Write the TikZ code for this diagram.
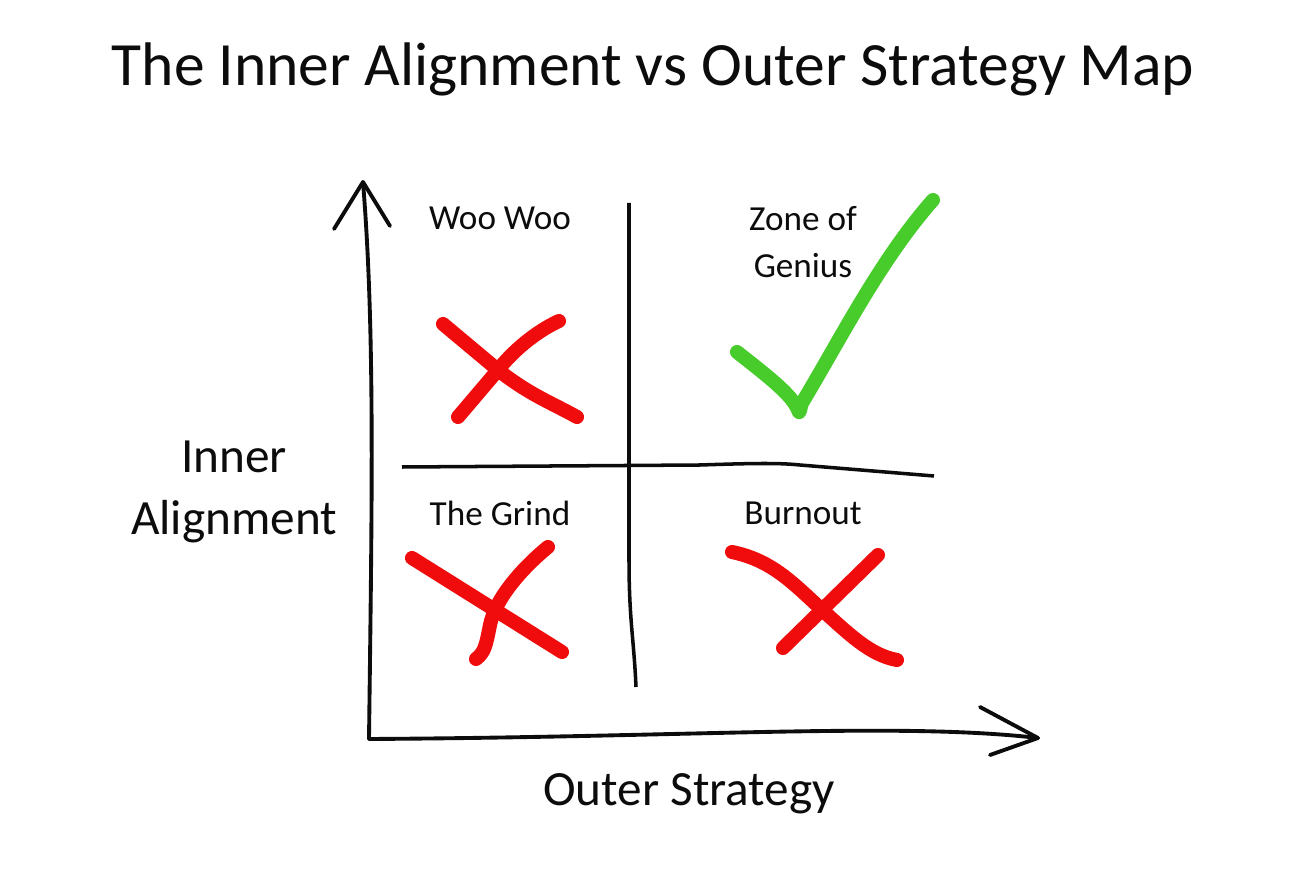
\documentclass[tikz,border=0pt]{standalone}
\usepackage{fontspec}
\setmainfont{Carlito}
\usetikzlibrary{positioning}
\definecolor{marker}{RGB}{240,12,12}
\definecolor{grass}{RGB}{72,204,44}
\definecolor{ink}{RGB}{12,12,12}
\tikzset{
  axis/.style={draw=ink,line width=1.1pt,line cap=round,line join=round},
  divider/.style={draw=ink,line width=1pt},
  cross/.style={draw=marker,line width=4pt,line cap=round,line join=round},
  checkmark/.style={draw=grass,line width=4pt,line cap=round,line join=round},
  quad/.style={font=\fontsize{10}{13.6}\selectfont,text=ink,align=center,inner sep=0pt},
  axislabel/.style={font=\fontsize{14}{17.6}\selectfont,text=ink,align=center,inner sep=0pt},
  headline/.style={font=\fontsize{17.5}{20}\selectfont,text=ink,inner sep=0pt},
}

\begin{document}
\begin{tikzpicture}[x=0.01cm,y=-0.01cm]
  \useasboundingbox[fill=white] (0,0) rectangle (1308,873);
  \node[headline,anchor=base] (title) at (653,86) {The Inner Alignment vs Outer Strategy Map};

  % axes
  \coordinate (O) at (369,739);
  \coordinate (ytip) at (363,182);
  \coordinate (xtip) at (1038,738);
  \draw[axis] (O) .. controls (372,500) and (375,330) .. (ytip);
  \draw[axis] (ytip) -- ++(-29,47) (ytip) -- ++(27,44);
  \draw[axis] (O) .. controls (700,737) and (900,722) .. (xtip);
  \draw[axis] (xtip) -- ++(-58,-31) (xtip) -- ++(-48,17);

  % quadrant lines
  \coordinate (vtop) at (629,203);
  \coordinate (vbot) at (636,687);
  \coordinate (hl) at (402,467);
  \coordinate (hr) at (934,476);
  \draw[divider] (vtop) -- (629,560) .. controls (629,620) and (634,640) .. (vbot);
  \draw[divider] (hl) -- (700,465) .. controls (760,463) and (780,463) .. (800,465) -- (hr);

  \node[quad] (woo) at (500,218) {Woo Woo};
  \node[quad] (genius) at (803,242) {Zone of\\Genius};
  \node[quad] (grind) at (500,513) {The Grind};
  \node[quad] (burn) at (803,513) {Burnout};

  \node[axislabel] (inner) at (234,492) {Inner\\Alignment};
  \node[axislabel,anchor=base] (outer) at (689,805) {Outer Strategy};

  % marks
  \draw[cross] (443,324) -- (498,370) .. controls (530,395) and (550,402) .. (577,417);
  \draw[cross] (559,321) .. controls (535,332) and (512,352) .. (498,370) -- (458,417);
  \draw[checkmark] (737,352) .. controls (770,378) and (792,395) .. (798,410)
    .. controls (800,416) and (800,408) .. (802,403)
    .. controls (840,340) and (880,260) .. (933,200);
  \draw[cross] (412,558) -- (562,652);
  \draw[cross] (548,547) .. controls (520,570) and (495,600) .. (490,625)
    .. controls (486,645) and (485,652) .. (476,659);
  \draw[cross] (732,552) .. controls (770,560) and (790,580) .. (820,608)
    .. controls (850,635) and (870,655) .. (897,660);
  \draw[cross] (878,555) -- (783,648);
\end{tikzpicture}
\end{document}
